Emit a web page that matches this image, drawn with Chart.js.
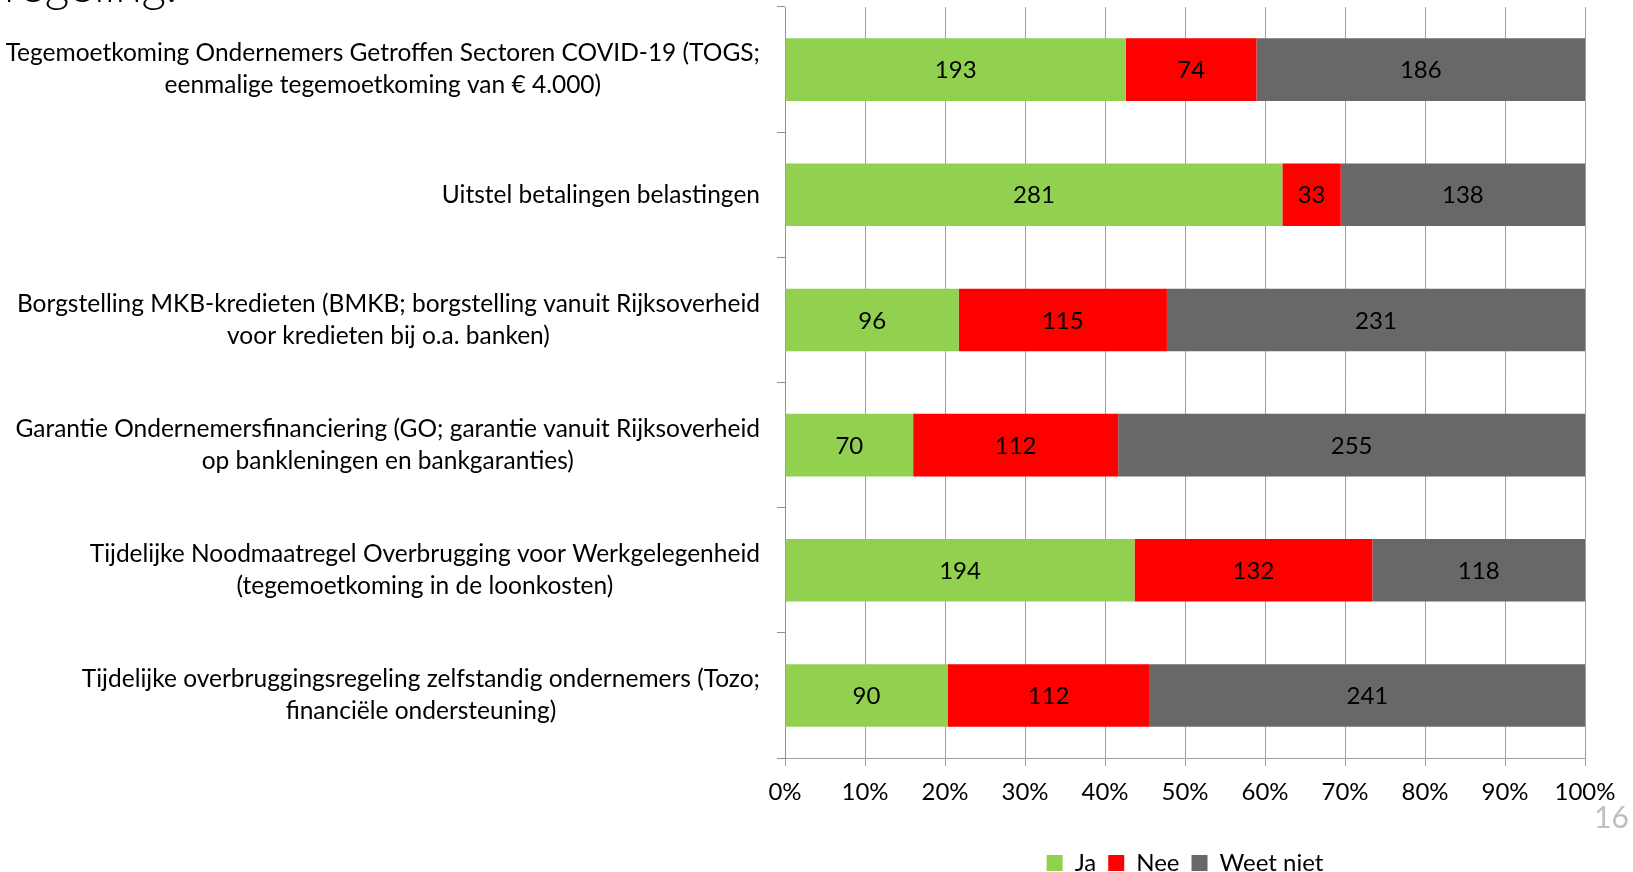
<!DOCTYPE html>
<html>
<head>
<meta charset="utf-8">
<script src="https://cdn.jsdelivr.net/npm/chart.js@4/dist/chart.umd.min.js"></script>
<style>
  html, body { margin: 0; padding: 0; background: #fff; }
  #wrap { position: relative; width: 1633px; height: 872px; overflow: hidden; }
  #heading { position: absolute; left: 4px; top: -40px; font: 300 48px Lato, sans-serif; line-height: 48px; color: #000; }
  #pagenr { position: absolute; left: 1594px; top: 798px; font: 30px Lato, sans-serif; color: #bfbfbf; }
</style>
</head>
<body>
<div id="wrap">
  <canvas id="myChart" width="1633" height="872"></canvas>
  <div id="heading">regeling.</div>
  <div id="pagenr">16</div>
</div>
<script>
var categories = [
  ["Tegemoetkoming Ondernemers Getroffen Sectoren COVID-19 (TOGS;", "eenmalige tegemoetkoming van € 4.000)"],
  ["Uitstel betalingen belastingen"],
  ["Borgstelling MKB-kredieten (BMKB; borgstelling vanuit Rijksoverheid", "voor kredieten bij o.a. banken)"],
  ["Garantie Ondernemersfinanciering (GO; garantie vanuit Rijksoverheid", "op bankleningen en bankgaranties)"],
  ["Tijdelijke Noodmaatregel Overbrugging voor Werkgelegenheid", "(tegemoetkoming in de loonkosten)"],
  ["Tijdelijke overbruggingsregeling zelfstandig ondernemers (Tozo;", "financiële ondersteuning)"],
];
var ja = [193, 281, 96, 70, 194, 90];
var nee = [74, 33, 115, 112, 132, 112];
var weetNiet = [186, 138, 231, 255, 118, 241];
var seriesNames = ["Ja", "Nee", "Weet niet"];

var totals = ja.map(function (v, i) { return v + nee[i] + weetNiet[i]; });
function pct(arr) {
  return arr.map(function (v, i) { return (v / totals[i]) * 100; });
}

var FONT = "Lato, sans-serif";

// category labels: block right-aligned, lines centred inside the block
var categoryLabels = {
  id: "categoryLabels",
  afterDraw: function (chart) {
    var ctx = chart.ctx;
    var yScale = chart.scales.y;
    ctx.save();
    ctx.font = "24.5px " + FONT;
    ctx.fillStyle = "#000";
    ctx.textAlign = "center";
    ctx.textBaseline = "middle";
    categories.forEach(function (lines, i) {
      var y = yScale.getPixelForValue(i);
      var w = Math.max.apply(null, lines.map(function (l) { return ctx.measureText(l).width; }));
      var cx = 760 - w / 2;
      var lh = 32;
      lines.forEach(function (l, j) {
        ctx.fillText(l, cx, y + (j - (lines.length - 1) / 2) * lh);
      });
    });
    ctx.restore();
  },
};

// counts in the middle of each segment
var valueLabels = {
  id: "valueLabels",
  afterDatasetsDraw: function (chart) {
    var ctx = chart.ctx;
    var raw = [ja, nee, weetNiet];
    ctx.save();
    ctx.font = "24px " + FONT;
    ctx.fillStyle = "#000";
    ctx.textAlign = "center";
    ctx.textBaseline = "middle";
    chart.data.datasets.forEach(function (ds, d) {
      chart.getDatasetMeta(d).data.forEach(function (el, i) {
        ctx.fillText(String(raw[d][i]), (el.x + el.base) / 2, el.y + 1);
      });
    });
    ctx.restore();
  },
};

var ctx = document.getElementById("myChart").getContext("2d");

var myChart = new Chart(ctx, {
  type: "bar",
  data: {
    labels: categories,
    datasets: [
      { label: seriesNames[0], data: pct(ja), backgroundColor: "#92d050" },
      { label: seriesNames[1], data: pct(nee), backgroundColor: "#ff0000" },
      { label: seriesNames[2], data: pct(weetNiet), backgroundColor: "#696867" },
    ],
  },
  plugins: [categoryLabels, valueLabels],
  options: {
    indexAxis: "y",
    responsive: false,
    animation: false,
    barPercentage: 0.5,
    categoryPercentage: 1,
    layout: {
      padding: { top: 7, right: 48, bottom: -13, left: 0 },
    },
    plugins: {
      tooltip: { enabled: false },
      legend: {
        position: "bottom",
        fullSize: false,
        labels: {
          font: { family: FONT, size: 24 },
          color: "#000",
          boxWidth: 16,
          boxHeight: 16,
          padding: 12,
        },
      },
    },
    scales: {
      x: {
        stacked: true,
        min: 0,
        max: 100,
        afterFit: function (scale) {
          scale.height = 81;
        },
        ticks: {
          stepSize: 10,
          padding: 12,
          color: "#000",
          font: { family: FONT, size: 24 },
          maxRotation: 0,
          callback: function (v) { return v + "%"; },
        },
        grid: {
          color: "#a0a0a0",
          tickLength: 8,
        },
        border: { color: "#a0a0a0" },
      },
      y: {
        stacked: true,
        afterFit: function (scale) {
          scale.width = 785;
        },
        ticks: { display: false },
        grid: {
          drawOnChartArea: false,
          offset: true,
          color: "#909090",
          tickLength: 8,
        },
        border: { color: "#909090" },
      },
    },
  },
});
</script>
</body>
</html>
